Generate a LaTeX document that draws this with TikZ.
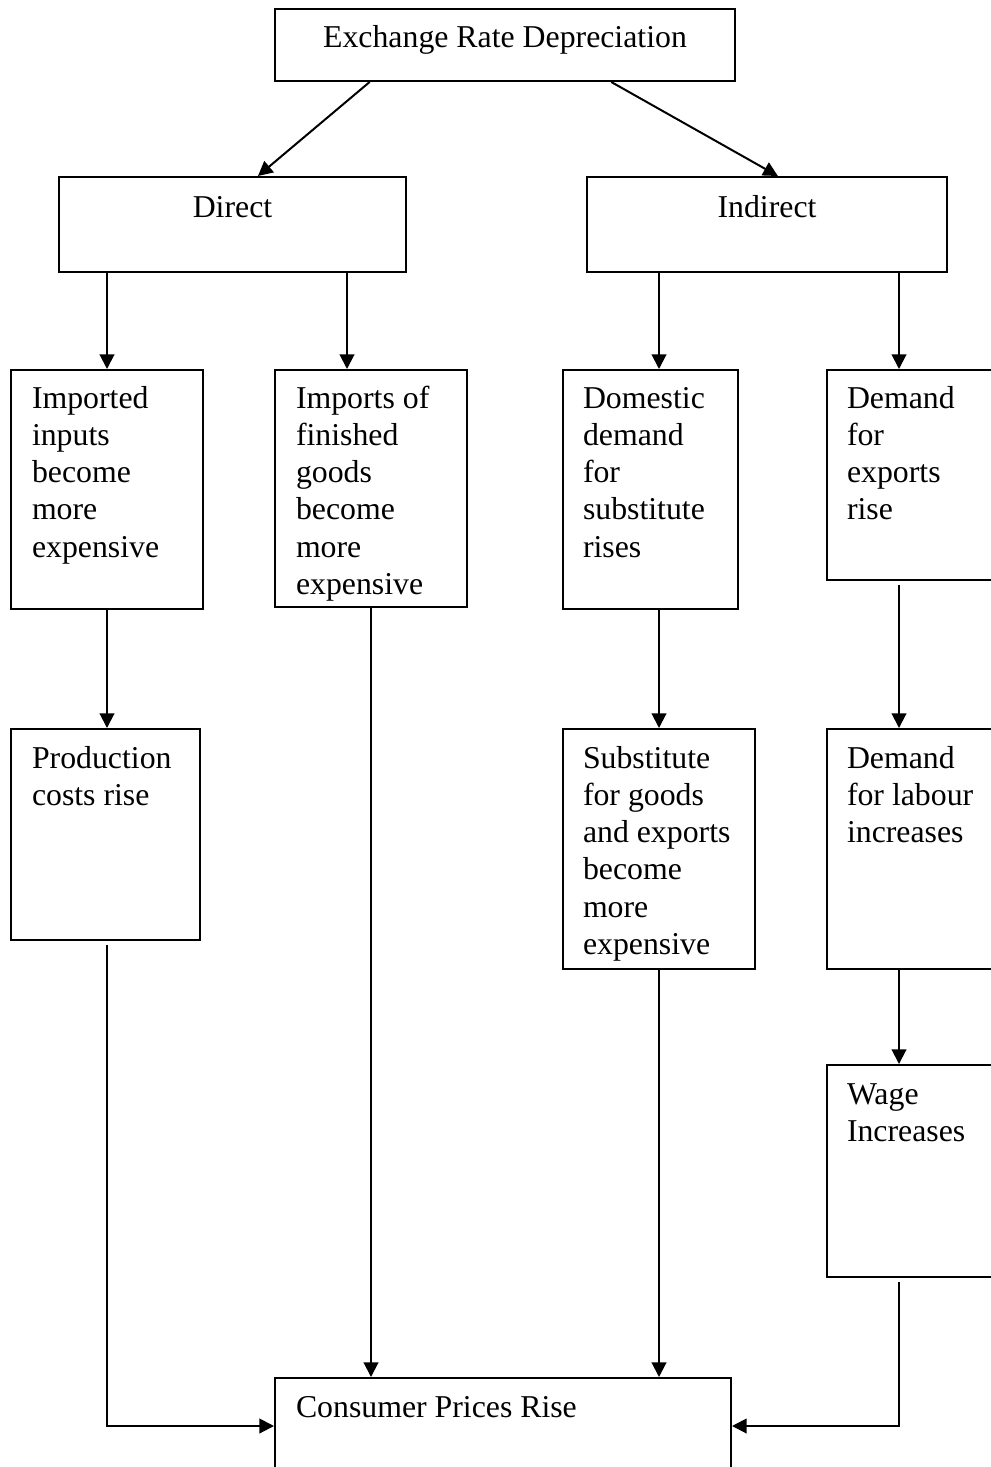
\documentclass[tikz,border=0pt]{standalone}
\usepackage{fontspec}
\setmainfont{Liberation Serif}
\usetikzlibrary{arrows.meta,fit,calc}

\begin{document}
\begin{tikzpicture}[x=0.3774pt, y=-0.3774pt, line width=0.75pt,
  box/.style={rectangle, draw, inner sep=0pt},
  txt/.style={inner sep=0pt, text width=6cm, align=left, anchor=base west, font=\fontsize{12}{14.08}\selectfont,
    execute at begin node={\spaceskip=0pt\xspaceskip=0pt}},
  ctxt/.style={inner sep=0pt, anchor=base, font=\fontsize{12}{14.08}\selectfont},
  arr/.style={-{Triangle[length=5.5pt, width=5.5pt]}},
  gap/.style={shorten <=1.5pt}]

  \useasboundingbox (0,0) rectangle (990,1467);

  \node[coordinate] (colA) at (107,0) {};
  \node[coordinate] (colB) at (347,0) {};
  \node[coordinate] (colF) at (371,0) {};
  \node[coordinate] (colC) at (659,0) {};
  \node[coordinate] (colD) at (899,0) {};

  \node[box, fit={(275,9) (735,81)}] (rate) {};
  \node[box, fit={(59,177) (406,272)}] (direct) {};
  \node[box, fit={(587,177) (947,272)}] (indirect) {};
  \node[box, fit={(11,370) (203,609)}] (inputs) {};
  \node[box, fit={(275,370) (467,607)}] (finished) {};
  \node[box, fit={(563,370) (738,609)}] (domestic) {};
  \node[box, fit={(827,370) (1000,580)}] (exports) {};
  \node[box, fit={(11,729) (200,940)}] (costs) {};
  \node[box, fit={(563,729) (755,969)}] (subst) {};
  \node[box, fit={(827,729) (1000,969)}] (labour) {};
  \node[box, fit={(827,1065) (1000,1277)}] (wage) {};
  \node[box, fit={(275,1378) (731,1474)}] (prices) {};

  \node[ctxt] (rateT) at ([shift={(0,39)}]rate.north) {Exchange Rate Depreciation};
  \node[ctxt] (directT) at ([shift={(0,41)}]direct.north) {Direct};
  \node[ctxt] (indirectT) at ([shift={(0,41)}]indirect.north) {Indirect};
  \node[txt] (inputsT) at ([shift={(21,39)}]inputs.north west) {Imported\\inputs\\become\\more\\expensive};
  \node[txt] (finishedT) at ([shift={(21,39)}]finished.north west) {Imports of\\finished\\goods\\become\\more\\expensive};
  \node[txt] (domesticT) at ([shift={(20,39)}]domestic.north west) {Domestic\\demand\\for\\substitute\\rises};
  \node[txt] (exportsT) at ([shift={(20,39)}]exports.north west) {Demand\\for\\exports\\rise};
  \node[txt] (costsT) at ([shift={(21,40)}]costs.north west) {Production\\costs rise};
  \node[txt] (substT) at ([shift={(20,40)}]subst.north west) {Substitute\\for goods\\and exports\\become\\more\\expensive};
  \node[txt] (labourT) at ([shift={(20,40)}]labour.north west) {Demand\\for labour\\increases};
  \node[txt] (wageT) at ([shift={(20,40)}]wage.north west) {Wage\\Increases};
  \node[txt] (pricesT) at ([shift={(21,40)}]prices.north west) {Consumer Prices Rise};

  \draw[arr] ($(rate.south west)!0.207!(rate.south east)$) -- ($(direct.north west)!0.573!(direct.north east)$);
  \draw[arr] ($(rate.south west)!0.730!(rate.south east)$) -- ($(indirect.north west)!0.530!(indirect.north east)$);
  \draw[arr] (direct.south -| colA) -- (inputs.north -| colA);
  \draw[arr] (direct.south -| colB) -- (finished.north -| colB);
  \draw[arr] (indirect.south -| colC) -- (domestic.north -| colC);
  \draw[arr] (indirect.south -| colD) -- (exports.north -| colD);
  \draw[arr] (inputs.south -| colA) -- (costs.north -| colA);
  \draw[arr] (domestic.south -| colC) -- (subst.north -| colC);
  \draw[arr, gap] (exports.south -| colD) -- (labour.north -| colD);
  \draw[arr] (labour.south -| colD) -- (wage.north -| colD);
  \draw[arr] (finished.south -| colF) -- (prices.north -| colF);
  \draw[arr] (subst.south -| colC) -- (prices.north -| colC);
  \draw[arr, gap] (costs.south -| colA) |- (prices.west);
  \draw[arr, gap] (wage.south -| colD) |- (prices.east);
\end{tikzpicture}
\end{document}
